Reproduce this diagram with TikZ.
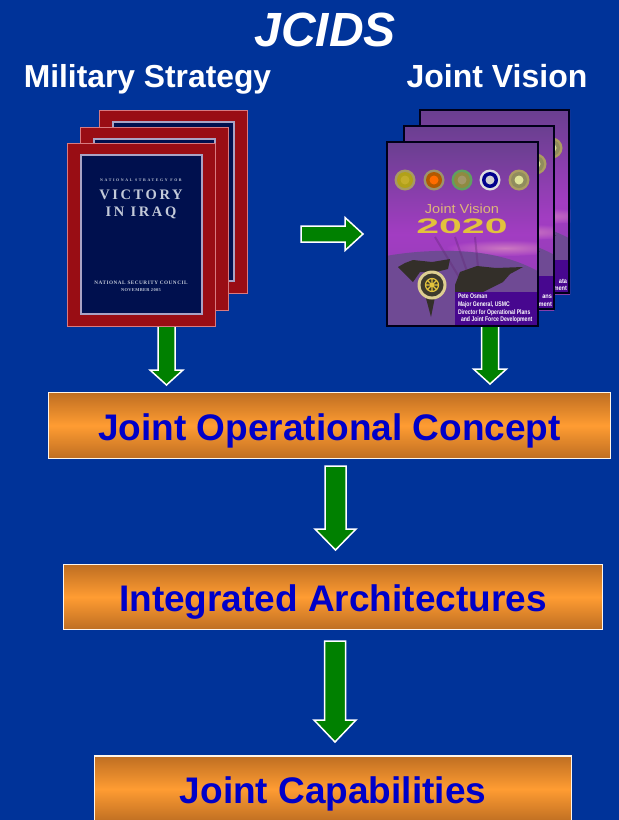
\documentclass[tikz,border=0pt]{standalone}
\usepackage{fontspec}
\setmainfont{Liberation Sans}
\newfontfamily\coverserif{Liberation Serif}
\usetikzlibrary{calc}
\definecolor{bgblue}{HTML}{003399}
\definecolor{boxtext}{HTML}{0000C8}
\definecolor{boxedge}{HTML}{BE6E22}
\definecolor{boxmid}{HTML}{FF9C32}
\definecolor{arrowgreen}{HTML}{008000}
\definecolor{bookred}{HTML}{990D14}
\definecolor{bookrim}{HTML}{D87A80}
\definecolor{booknavy}{HTML}{00104E}
\definecolor{bookinner}{HTML}{A9A3C4}
\definecolor{covertext}{HTML}{C3CAD9}
\definecolor{jvtop}{HTML}{6A3F90}
\definecolor{jvmid}{HTML}{A23DC2}
\definecolor{jvlow}{HTML}{8A3CB0}
\definecolor{jvland}{HTML}{6F4A94}
\definecolor{jvblock}{HTML}{47078F}
\definecolor{jvgold}{HTML}{E2C23C}
\tikzset{
  every node/.style={inner sep=0pt,outer sep=0pt},
  titletext/.style={text=white,font=\bfseries,anchor=base},
  flowbox/.style={draw=white!90!boxmid,line width=1.4pt,shading=axis,shading angle=0,
    top color=boxedge,bottom color=boxedge,middle color=boxmid,
    text=boxtext,font=\fontsize{37}{40}\selectfont\bfseries,align=center,
    text height=29.5pt,text depth=0pt},
  greenarrow/.style={fill=arrowgreen,draw=white,line width=1.5pt,line join=miter},
  redcover/.style={fill=bookred,draw=bookrim,line width=0.9pt},
  navycover/.style={fill=booknavy,draw=bookinner,line width=1.2pt},
  jvcoverbox/.style={shading=axis,shading angle=0,top color=jvtop,bottom color=jvlow,middle color=jvmid},
  jvedge/.style={draw=black!90!blue,line width=1.3pt},
  tinywhite/.style={text=white,font=\fontsize{6.6}{7.6}\selectfont\bfseries},
  coverlabel/.style={text=covertext,font=\coverserif}
}
% block arrows between two named coordinates
\newcommand{\arrowdown}[5]{% from, to, half shaft, half head, head length
  \draw[greenarrow] let \p1=(#1),\p2=(#2) in
    (\x1-#3pt,\y1) -- (\x1+#3pt,\y1) -- (\x1+#3pt,\y2+#5pt) -- (\x1+#4pt,\y2+#5pt)
    -- (\x1,\y2) -- (\x1-#4pt,\y2+#5pt) -- (\x1-#3pt,\y2+#5pt) -- cycle;}
\newcommand{\arrowright}[5]{%
  \draw[greenarrow] let \p1=(#1),\p2=(#2) in
    (\x1,\y1+#3pt) -- (\x1,\y1-#3pt) -- (\x2-#5pt,\y1-#3pt) -- (\x2-#5pt,\y1-#4pt)
    -- (\x2,\y1) -- (\x2-#5pt,\y1+#4pt) -- (\x2-#5pt,\y1+#3pt) -- cycle;}
\newcommand{\redbook}[2]{%
  \path[redcover] (#1,#2) rectangle ++(148,183);
  \path[navycover] (#1+14,#2+12) rectangle ++(121,159);}
\newcommand{\seal}[4]{% x, outer, inner, centre
  \fill[#2] (#1,38) circle (10.5);
  \fill[#3] (#1,38) circle (8);
  \fill[#4] (#1,38) circle (4.5);}
% common Joint Vision cover art, local coordinates 0..150 x 0..184
\newcommand{\jvart}[2]{%
  \begin{scope}[shift={(#1,#2)}]
    \path[jvcoverbox] (0,0) rectangle (150,184);
    \begin{scope}
      \clip (0,0) rectangle (150,184);
      \path[inner color=jvmid!55!pink,outer color=jvmid] (118,106) ellipse (58 and 8);
      \fill[jvland] (-20,184) -- (-20,118) .. controls (20,108) and (70,106) .. (105,113)
        .. controls (130,118) and (145,125) .. (170,140) -- (170,184) -- cycle;
      \draw[black!40!jvmid,opacity=.35,line width=2pt] (48,95) -- (72,135) (68,95) -- (82,135) (88,95) -- (92,135);
      \seal{18}{gray!60!jvgold}{olive!60!jvgold}{jvgold!70!olive}
      \seal{47}{gray!70!jvgold}{orange!70!black}{orange!85!red}
      \seal{75}{gray!75!green}{olive!55!gray}{jvgold!35!gray}
      \seal{103}{white!75!gray}{blue!55!black}{gray!35!white}
      \seal{132}{jvgold!45!gray}{olive!35!gray}{green!15!jvgold!50!white}
      \fill[black!85!olive] (11,125) -- (18,121) -- (26,118) -- (45,120) -- (63,117) -- (61,127) -- (49,130) -- (33,130) -- (26,140) -- (16,130) -- cycle;
      \fill[black!85!olive] (34,140) -- (50,145) -- (46,165) -- (44,175) -- (40,160) -- cycle;
      \fill[black!85!olive] (68,143) -- (73,130) -- (90,124) -- (109,126) -- (136,125) -- (123,132) -- (116,140) -- (96,150) -- (68,150) -- cycle;
      \fill[jvblock] (68,150) rectangle (150,184);
    \end{scope}
  \end{scope}}
\begin{document}
\begin{tikzpicture}[x=1pt,y=-1pt]
\useasboundingbox (0,0) rectangle (619,820);
\fill[bgblue] (0,0) rectangle (619,820);

% headings
\node[titletext,font=\fontsize{48}{50}\selectfont\bfseries\itshape] (jcids) at (325,46) {JCIDS};
\node[titletext,font=\fontsize{31.8}{33}\selectfont\bfseries] (milstrat) at (147.5,87.5) {Military Strategy};
\node[titletext,font=\fontsize{32}{33}\selectfont\bfseries] (jvhead) at (497,87.5) {Joint Vision};

% flow boxes
\node[flowbox,minimum width=562pt,minimum height=66pt] (joc) at (329.5,425.5) {Joint Operational Concept};
\node[flowbox,minimum width=539pt,minimum height=65pt] (ia) at (333,597) {Integrated Architectures};
\begin{scope}
  \clip (0,0) rectangle (619,820);
  \node[flowbox,minimum width=477pt,minimum height=66pt] (jc) at (333,789) {Joint Capabilities};
\end{scope}

% connector end points
\coordinate (a1s) at (166.5,320);
\coordinate (a1e) at (166.5,385);
\coordinate (a2s) at (490,320);
\coordinate (a2e) at (490,384);
\coordinate (a3s) at (335.5,466);
\coordinate (a3e) at (335.5,550);
\coordinate (a4s) at (335,641);
\coordinate (a4e) at (335,742);
\coordinate (a5s) at (301,234);
\coordinate (a5e) at (363,234);
\arrowdown{a1s}{a1e}{8.5}{16.5}{15}
\arrowdown{a2s}{a2e}{8.5}{16.5}{15}
\arrowdown{a3s}{a3e}{10.5}{20.5}{21}
\arrowdown{a4s}{a4e}{10.5}{21}{22}
\arrowright{a5s}{a5e}{8}{16.5}{18}

% red books
\redbook{99}{110}
\redbook{80}{127}
\redbook{67}{143}
\node[coverlabel,font=\coverserif\bfseries\fontsize{3.9}{4}\selectfont\addfontfeature{LetterSpace=42}] (rb1) at (141,180) {NATIONAL STRATEGY FOR};
\node[coverlabel,font=\coverserif\bfseries\fontsize{14.5}{16}\selectfont\addfontfeature{LetterSpace=18}] (rb2) at (141,195) {VICTORY};
\node[coverlabel,font=\coverserif\bfseries\fontsize{14.5}{16}\selectfont\addfontfeature{LetterSpace=18}] (rb3) at (141,213) {IN IRAQ};
\node[coverlabel,font=\coverserif\bfseries\fontsize{5.2}{6}\selectfont\addfontfeature{LetterSpace=10}] (rb4) at (141,283) {NATIONAL SECURITY COUNCIL};
\node[coverlabel,font=\coverserif\bfseries\fontsize{4.4}{5}\selectfont\addfontfeature{LetterSpace=8}] (rb5) at (141,290) {NOVEMBER 2005};

% Joint Vision books
\jvart{420}{110}
\draw[jvedge] (420,110) rectangle ++(149,183);
\node[tinywhite,anchor=east,xscale=.85] (jvb1) at (567,281) {ata};
\node[tinywhite,anchor=east,xscale=.85] (jvb2) at (567,288) {ment};
\jvart{404}{126}
\draw[jvedge] (404,126) rectangle ++(150,183);
\node[tinywhite,anchor=east,xscale=.85] (jvm1) at (552,297) {ans};
\node[tinywhite,anchor=east,xscale=.85] (jvm2) at (552,304) {ment};
\jvart{387}{142}
\draw[jvedge] (387,142) rectangle ++(151,184);
% emblem on the front cover
\fill[jvgold!55!white!85!gray] (432,285) circle (14.5);
\fill[black!75!olive] (432,285) circle (11.5);
\draw[jvgold,line width=1.2pt] (432,285) circle (6.5) (425,285) -- (439,285) (432,278) -- (432,292) (427,280) -- (437,290) (437,280) -- (427,290);
% cover lettering
\node[text=jvgold!55!pink!85!gray,font=\fontsize{13}{14}\selectfont,xscale=1.12] (jvt1) at (462,209) {Joint Vision};
\node[text=jvgold,font=\fontsize{21}{22}\selectfont\bfseries,xscale=1.95] (jvt2) at (462,226) {2020};
\node[tinywhite,anchor=north west,align=left,xscale=.76,font=\fontsize{6.7}{7.7}\selectfont\bfseries] (jvt3) at (458,294) {Pete Osman\\Major General, USMC\\Director for Operational Plans\\\hspace{4pt}and Joint Force Development};
\end{tikzpicture}
\end{document}
